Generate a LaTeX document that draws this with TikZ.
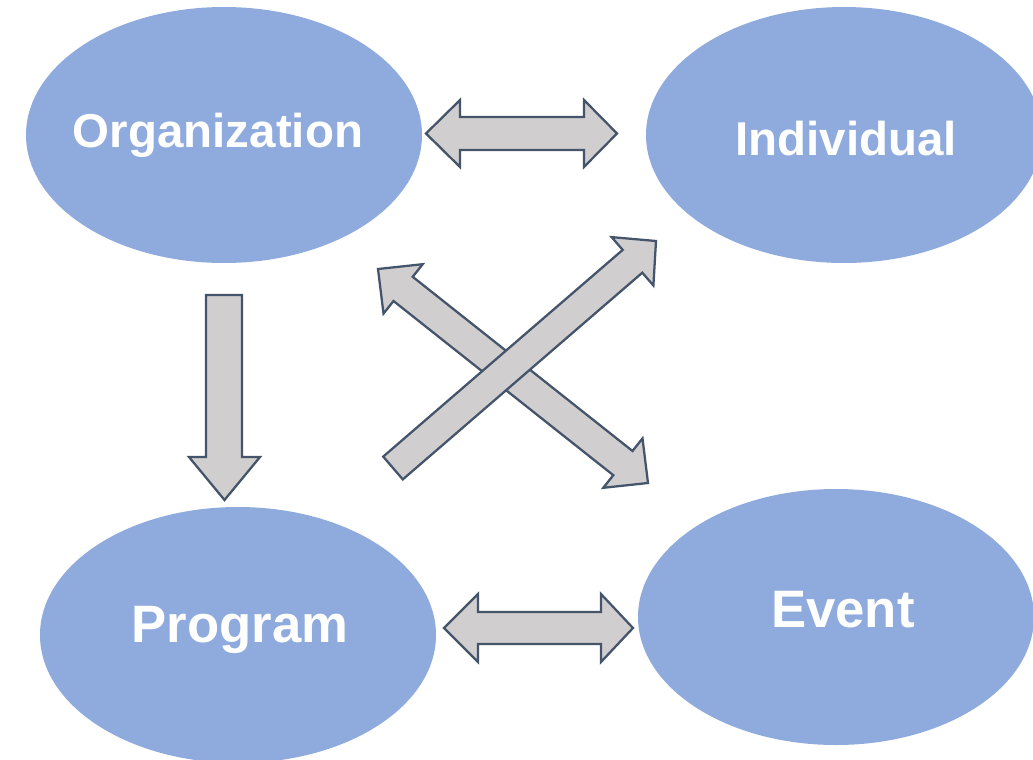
\documentclass[tikz,border=0pt]{standalone}
\usepackage{fontspec}
\setmainfont{Liberation Sans}
\usetikzlibrary{shapes.geometric}
\definecolor{blobblue}{HTML}{8FAADC}
\definecolor{arrowgray}{HTML}{D0CECE}
\definecolor{arrowedge}{HTML}{44546A}
\tikzset{
  blob/.style={ellipse, fill=blobblue, inner sep=0pt, minimum width=297pt, minimum height=192pt},
  smalllabel/.style={anchor=base, inner sep=0pt, text=white, font=\fontsize{35.6}{42}\selectfont\bfseries},
  biglabel/.style={anchor=base, inner sep=0pt, text=white, font=\fontsize{39.5}{46}\selectfont\bfseries},
  blockarrow/.style={fill=arrowgray, draw=arrowedge, line width=1.7pt, line join=miter}
}
\begin{document}
\begin{tikzpicture}[x=0.75pt, y=-0.75pt]
\useasboundingbox (0,0) rectangle (1033,760);
\clip (0,0) rectangle (1033,760);
\fill[white] (0,0) rectangle (1033,760);
% ellipses
\node[blob] (org) at (224,135) {};
\node[blob] (ind) at (844,135) {};
\node[blob] (prog) at (238,635) {};
\node[blob] (event) at (836,617) {};
% labels
\node[smalllabel] (orgL) at (218,147) {Organization};
\node[smalllabel] (indL) at (846,155) {Individual};
\node[biglabel] (progL) at (240,642) {Program};
\node[biglabel] (eventL) at (843,627) {Event};
% Organization <-> Individual
\draw[blockarrow] (426,133.5) -- (460,100) -- (460,117) -- (584,117) -- (584,100) -- (617,133.5)
  -- (584,167) -- (584,150) -- (460,150) -- (460,167) -- cycle;
% Program <-> Event
\draw[blockarrow] (444,628) -- (478,594) -- (478,612) -- (601,612) -- (601,594) -- (633,628)
  -- (601,662) -- (601,644) -- (478,644) -- (478,662) -- cycle;
% Organization -> Program
\draw[blockarrow] (206,295) -- (242,295) -- (242,457) -- (260,457) -- (224.5,500)
  -- (189,457) -- (206,457) -- cycle;
% Organization <-> Event (diagonal)
\draw[blockarrow] (378,269) -- (422.7,264.2) -- (412.7,276.8) -- (632.5,451.0) -- (642.5,438.4)
  -- (648,483) -- (603.3,487.8) -- (613.3,475.2) -- (393.5,301.0) -- (383.5,313.6) -- cycle;
% Program -> Individual (diagonal)
\draw[blockarrow] (383.2,456.6) -- (622.7,249.9) -- (611.6,237.1) -- (656,241)
  -- (653.4,285.5) -- (642.3,272.7) -- (402.8,479.4) -- cycle;
\end{tikzpicture}
\end{document}
